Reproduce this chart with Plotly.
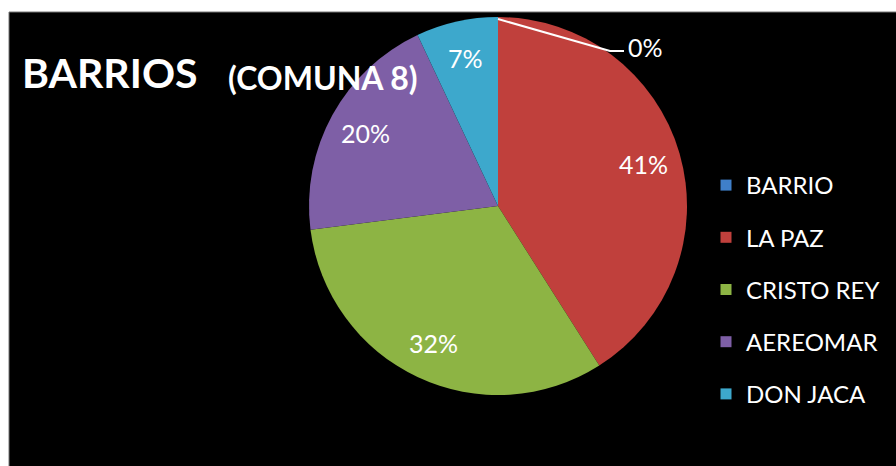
import math
import plotly.graph_objects as go

# Share of each neighbourhood in Comuna 8
barrios = ["BARRIO", "LA PAZ", "CRISTO REY", "AEREOMAR", "DON JACA"]
porcentajes = [0, 41, 32, 20, 7]
colores = ["#3F7FC9", "#C0403C", "#8DB444", "#7E5FA6", "#3DA8CC"]

W, H = 896, 466
FONT = "Lato"

# Pie placement in pixels
CX, CY, R = 498, 206, 189
LABEL_R = 0.8 * R


def px(x):
    return x / W


def py(y):
    return 1 - y / H


fig = go.Figure()

# Pie: slices start at 12 o'clock and run clockwise
fig.add_trace(go.Pie(
    labels=barrios,
    values=porcentajes,
    marker=dict(colors=colores, line=dict(width=0)),
    sort=False,
    direction="clockwise",
    rotation=0,
    textinfo="none",
    showlegend=False,
    hoverinfo="label+percent",
    domain=dict(x=[px(CX - R), px(CX + R)], y=[py(CY + R), py(CY - R)]),
))

# Percentage labels placed along each slice's mid-angle
total = sum(porcentajes)
acum = 0
for nombre, v in zip(barrios, porcentajes):
    frac = v / total
    if v > 0:
        ang = 2 * math.pi * (acum + frac / 2)
        lx = CX + LABEL_R * math.sin(ang)
        ly = CY - LABEL_R * math.cos(ang)
        fig.add_annotation(
            x=px(lx), y=py(ly), xref="paper", yref="paper",
            text=f"{frac:.0%}", showarrow=False,
            xanchor="center", yanchor="middle",
            font=dict(family=FONT, size=25, color="white"),
        )
    acum += frac

# Legend entries, one group per neighbourhood so the rows are spread out
for name, col in zip(barrios, colores):
    fig.add_trace(go.Scatter(
        x=[None], y=[None], mode="markers", name=name,
        marker=dict(symbol="square", size=11, color=col),
        legendgroup=name, showlegend=True,
    ))

# Callout for the zero-share slice at the top of the pie
zero_label = f"{porcentajes[0] / total:.0%}"
fig.add_shape(
    type="path",
    path=f"M {px(CX)},{py(CY - R + 2)} L {px(610)},{py(51)} L {px(624)},{py(51)}",
    xref="paper", yref="paper",
    line=dict(color="white", width=2),
)
fig.add_annotation(
    x=px(626), y=py(47), xref="paper", yref="paper",
    text=zero_label, showarrow=False, xanchor="left", yanchor="middle",
    font=dict(family=FONT, size=25, color="white"),
)

# Title
fig.add_annotation(
    x=px(20), y=py(72), xref="paper", yref="paper",
    text="<b>BARRIOS</b>", showarrow=False, xanchor="left", yanchor="middle",
    font=dict(family=FONT, size=41, color="white"),
)
fig.add_annotation(
    x=px(226), y=py(77), xref="paper", yref="paper",
    text="<b>(COMUNA 8)</b>", showarrow=False, xanchor="left", yanchor="middle",
    font=dict(family=FONT, size=32, color="white"),
)

# Black chart area, leaving the thin white strip at the top and left
fig.add_shape(
    type="rect", xref="paper", yref="paper",
    x0=px(9), x1=1, y0=0, y1=py(12),
    fillcolor="black", line=dict(width=0), layer="below",
)
fig.add_shape(
    type="line", xref="paper", yref="paper",
    x0=px(9), x1=1, y0=py(12), y1=py(12),
    line=dict(color="#777777", width=1), layer="below",
)
fig.add_shape(
    type="line", xref="paper", yref="paper",
    x0=px(9), x1=px(9), y0=0, y1=py(12),
    line=dict(color="#777777", width=1), layer="below",
)

fig.update_layout(
    width=W, height=H,
    margin=dict(l=0, r=0, t=0, b=0),
    paper_bgcolor="white",
    plot_bgcolor="rgba(0,0,0,0)",
    xaxis=dict(visible=False),
    yaxis=dict(visible=False),
    legend=dict(
        x=px(706), y=py(163), xanchor="left", yanchor="top",
        font=dict(family=FONT, size=24, color="white"),
        bgcolor="rgba(0,0,0,0)",
        tracegroupgap=18,
        itemwidth=30,
        itemclick=False,
    ),
)

fig.write_html("out.html")
